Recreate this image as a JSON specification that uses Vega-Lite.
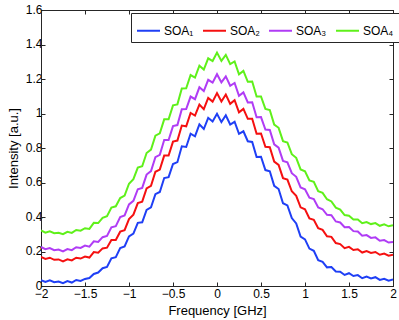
{
  "$schema": "https://vega.github.io/schema/vega-lite/v6.json",
  "width": 352,
  "height": 276,
  "autosize": {"type": "none"},
  "padding": {"left": 41, "top": 10, "right": 6, "bottom": 34},
  "background": "white",
  "view": {"stroke": "#262626", "strokeWidth": 1},
  "config": {
    "font": "Liberation Sans",
    "axis": {"labelFont": "Liberation Sans", "titleFont": "Liberation Sans", "labelFontSize": 12, "titleFontSize": 13, "titleFontWeight": "normal", "labelColor": "#000000", "titleColor": "#000000", "domainColor": "#262626", "tickColor": "#262626", "grid": false, "labelOverlap": false, "labelFlush": false},
    "legend": {"labelFont": "Liberation Sans"}
  },
  "data": {"values": [
    {"x":-2,"s":"SOA₁","y":0.034},{"x":-1.95,"s":"SOA₁","y":0.023},{"x":-1.9,"s":"SOA₁","y":0.033},{"x":-1.85,"s":"SOA₁","y":0.022},{"x":-1.8,"s":"SOA₁","y":0.026},{"x":-1.75,"s":"SOA₁","y":0.016},{"x":-1.7,"s":"SOA₁","y":0.028},{"x":-1.65,"s":"SOA₁","y":0.020},{"x":-1.6,"s":"SOA₁","y":0.035},{"x":-1.55,"s":"SOA₁","y":0.029},
    {"x":-1.5,"s":"SOA₁","y":0.041},{"x":-1.45,"s":"SOA₁","y":0.046},{"x":-1.4,"s":"SOA₁","y":0.070},{"x":-1.35,"s":"SOA₁","y":0.078},{"x":-1.3,"s":"SOA₁","y":0.103},{"x":-1.25,"s":"SOA₁","y":0.110},{"x":-1.2,"s":"SOA₁","y":0.160},{"x":-1.15,"s":"SOA₁","y":0.167},{"x":-1.1,"s":"SOA₁","y":0.220},{"x":-1.05,"s":"SOA₁","y":0.229},
    {"x":-1,"s":"SOA₁","y":0.288},{"x":-0.95,"s":"SOA₁","y":0.304},{"x":-0.9,"s":"SOA₁","y":0.366},{"x":-0.85,"s":"SOA₁","y":0.369},{"x":-0.8,"s":"SOA₁","y":0.441},{"x":-0.75,"s":"SOA₁","y":0.456},{"x":-0.7,"s":"SOA₁","y":0.532},{"x":-0.65,"s":"SOA₁","y":0.545},{"x":-0.6,"s":"SOA₁","y":0.626},{"x":-0.55,"s":"SOA₁","y":0.631},
    {"x":-0.5,"s":"SOA₁","y":0.707},{"x":-0.45,"s":"SOA₁","y":0.718},{"x":-0.4,"s":"SOA₁","y":0.810},{"x":-0.35,"s":"SOA₁","y":0.806},{"x":-0.3,"s":"SOA₁","y":0.883},{"x":-0.25,"s":"SOA₁","y":0.868},{"x":-0.2,"s":"SOA₁","y":0.937},{"x":-0.15,"s":"SOA₁","y":0.910},{"x":-0.1,"s":"SOA₁","y":0.975},{"x":-0.05,"s":"SOA₁","y":0.954},
    {"x":0,"s":"SOA₁","y":0.998},{"x":0.05,"s":"SOA₁","y":0.950},{"x":0.1,"s":"SOA₁","y":0.990},{"x":0.15,"s":"SOA₁","y":0.936},{"x":0.2,"s":"SOA₁","y":0.952},{"x":0.25,"s":"SOA₁","y":0.882},{"x":0.3,"s":"SOA₁","y":0.897},{"x":0.35,"s":"SOA₁","y":0.839},{"x":0.4,"s":"SOA₁","y":0.835},{"x":0.45,"s":"SOA₁","y":0.748},
    {"x":0.5,"s":"SOA₁","y":0.749},{"x":0.55,"s":"SOA₁","y":0.672},{"x":0.6,"s":"SOA₁","y":0.665},{"x":0.65,"s":"SOA₁","y":0.581},{"x":0.7,"s":"SOA₁","y":0.562},{"x":0.75,"s":"SOA₁","y":0.480},{"x":0.8,"s":"SOA₁","y":0.467},{"x":0.85,"s":"SOA₁","y":0.394},{"x":0.9,"s":"SOA₁","y":0.363},{"x":0.95,"s":"SOA₁","y":0.286},
    {"x":1,"s":"SOA₁","y":0.270},{"x":1.05,"s":"SOA₁","y":0.217},{"x":1.1,"s":"SOA₁","y":0.204},{"x":1.15,"s":"SOA₁","y":0.150},{"x":1.2,"s":"SOA₁","y":0.140},{"x":1.25,"s":"SOA₁","y":0.108},{"x":1.3,"s":"SOA₁","y":0.110},{"x":1.35,"s":"SOA₁","y":0.084},{"x":1.4,"s":"SOA₁","y":0.083},{"x":1.45,"s":"SOA₁","y":0.064},
    {"x":1.5,"s":"SOA₁","y":0.074},{"x":1.55,"s":"SOA₁","y":0.058},{"x":1.6,"s":"SOA₁","y":0.063},{"x":1.65,"s":"SOA₁","y":0.045},{"x":1.7,"s":"SOA₁","y":0.055},{"x":1.75,"s":"SOA₁","y":0.044},{"x":1.8,"s":"SOA₁","y":0.051},{"x":1.85,"s":"SOA₁","y":0.035},{"x":1.9,"s":"SOA₁","y":0.042},{"x":1.95,"s":"SOA₁","y":0.031},{"x":2,"s":"SOA₁","y":0.038},

    {"x":-2,"s":"SOA₂","y":0.169},{"x":-1.95,"s":"SOA₂","y":0.157},{"x":-1.9,"s":"SOA₂","y":0.164},{"x":-1.85,"s":"SOA₂","y":0.152},{"x":-1.8,"s":"SOA₂","y":0.154},{"x":-1.75,"s":"SOA₂","y":0.143},{"x":-1.7,"s":"SOA₂","y":0.155},{"x":-1.65,"s":"SOA₂","y":0.148},{"x":-1.6,"s":"SOA₂","y":0.164},{"x":-1.55,"s":"SOA₂","y":0.159},
    {"x":-1.5,"s":"SOA₂","y":0.171},{"x":-1.45,"s":"SOA₂","y":0.165},{"x":-1.4,"s":"SOA₂","y":0.197},{"x":-1.35,"s":"SOA₂","y":0.193},{"x":-1.3,"s":"SOA₂","y":0.218},{"x":-1.25,"s":"SOA₂","y":0.222},{"x":-1.2,"s":"SOA₂","y":0.267},{"x":-1.15,"s":"SOA₂","y":0.267},{"x":-1.1,"s":"SOA₂","y":0.315},{"x":-1.05,"s":"SOA₂","y":0.324},
    {"x":-1,"s":"SOA₂","y":0.388},{"x":-0.95,"s":"SOA₂","y":0.414},{"x":-0.9,"s":"SOA₂","y":0.481},{"x":-0.85,"s":"SOA₂","y":0.489},{"x":-0.8,"s":"SOA₂","y":0.566},{"x":-0.75,"s":"SOA₂","y":0.581},{"x":-0.7,"s":"SOA₂","y":0.662},{"x":-0.65,"s":"SOA₂","y":0.675},{"x":-0.6,"s":"SOA₂","y":0.756},{"x":-0.55,"s":"SOA₂","y":0.756},
    {"x":-0.5,"s":"SOA₂","y":0.837},{"x":-0.45,"s":"SOA₂","y":0.843},{"x":-0.4,"s":"SOA₂","y":0.930},{"x":-0.35,"s":"SOA₂","y":0.926},{"x":-0.3,"s":"SOA₂","y":1.003},{"x":-0.25,"s":"SOA₂","y":0.988},{"x":-0.2,"s":"SOA₂","y":1.052},{"x":-0.15,"s":"SOA₂","y":1.025},{"x":-0.1,"s":"SOA₂","y":1.090},{"x":-0.05,"s":"SOA₂","y":1.069},
    {"x":0,"s":"SOA₂","y":1.118},{"x":0.05,"s":"SOA₂","y":1.070},{"x":0.1,"s":"SOA₂","y":1.110},{"x":0.15,"s":"SOA₂","y":1.056},{"x":0.2,"s":"SOA₂","y":1.077},{"x":0.25,"s":"SOA₂","y":1.007},{"x":0.3,"s":"SOA₂","y":1.027},{"x":0.35,"s":"SOA₂","y":0.969},{"x":0.4,"s":"SOA₂","y":0.970},{"x":0.45,"s":"SOA₂","y":0.883},
    {"x":0.5,"s":"SOA₂","y":0.884},{"x":0.55,"s":"SOA₂","y":0.807},{"x":0.6,"s":"SOA₂","y":0.805},{"x":0.65,"s":"SOA₂","y":0.721},{"x":0.7,"s":"SOA₂","y":0.702},{"x":0.75,"s":"SOA₂","y":0.625},{"x":0.8,"s":"SOA₂","y":0.617},{"x":0.85,"s":"SOA₂","y":0.549},{"x":0.9,"s":"SOA₂","y":0.523},{"x":0.95,"s":"SOA₂","y":0.456},
    {"x":1,"s":"SOA₂","y":0.445},{"x":1.05,"s":"SOA₂","y":0.392},{"x":1.1,"s":"SOA₂","y":0.384},{"x":1.15,"s":"SOA₂","y":0.335},{"x":1.2,"s":"SOA₂","y":0.325},{"x":1.25,"s":"SOA₂","y":0.288},{"x":1.3,"s":"SOA₂","y":0.285},{"x":1.35,"s":"SOA₂","y":0.249},{"x":1.4,"s":"SOA₂","y":0.243},{"x":1.45,"s":"SOA₂","y":0.219},
    {"x":1.5,"s":"SOA₂","y":0.227},{"x":1.55,"s":"SOA₂","y":0.209},{"x":1.6,"s":"SOA₂","y":0.213},{"x":1.65,"s":"SOA₂","y":0.194},{"x":1.7,"s":"SOA₂","y":0.203},{"x":1.75,"s":"SOA₂","y":0.192},{"x":1.8,"s":"SOA₂","y":0.197},{"x":1.85,"s":"SOA₂","y":0.181},{"x":1.9,"s":"SOA₂","y":0.188},{"x":1.95,"s":"SOA₂","y":0.176},{"x":2,"s":"SOA₂","y":0.181},

    {"x":-2,"s":"SOA₃","y":0.226},{"x":-1.95,"s":"SOA₃","y":0.213},{"x":-1.9,"s":"SOA₃","y":0.220},{"x":-1.85,"s":"SOA₃","y":0.208},{"x":-1.8,"s":"SOA₃","y":0.211},{"x":-1.75,"s":"SOA₃","y":0.201},{"x":-1.7,"s":"SOA₃","y":0.214},{"x":-1.65,"s":"SOA₃","y":0.208},{"x":-1.6,"s":"SOA₃","y":0.225},{"x":-1.55,"s":"SOA₃","y":0.221},
    {"x":-1.5,"s":"SOA₃","y":0.234},{"x":-1.45,"s":"SOA₃","y":0.228},{"x":-1.4,"s":"SOA₃","y":0.259},{"x":-1.35,"s":"SOA₃","y":0.255},{"x":-1.3,"s":"SOA₃","y":0.283},{"x":-1.25,"s":"SOA₃","y":0.290},{"x":-1.2,"s":"SOA₃","y":0.340},{"x":-1.15,"s":"SOA₃","y":0.347},{"x":-1.1,"s":"SOA₃","y":0.400},{"x":-1.05,"s":"SOA₃","y":0.409},
    {"x":-1,"s":"SOA₃","y":0.473},{"x":-0.95,"s":"SOA₃","y":0.494},{"x":-0.9,"s":"SOA₃","y":0.561},{"x":-0.85,"s":"SOA₃","y":0.569},{"x":-0.8,"s":"SOA₃","y":0.646},{"x":-0.75,"s":"SOA₃","y":0.666},{"x":-0.7,"s":"SOA₃","y":0.747},{"x":-0.65,"s":"SOA₃","y":0.760},{"x":-0.6,"s":"SOA₃","y":0.846},{"x":-0.55,"s":"SOA₃","y":0.846},
    {"x":-0.5,"s":"SOA₃","y":0.927},{"x":-0.45,"s":"SOA₃","y":0.933},{"x":-0.4,"s":"SOA₃","y":1.025},{"x":-0.35,"s":"SOA₃","y":1.026},{"x":-0.3,"s":"SOA₃","y":1.098},{"x":-0.25,"s":"SOA₃","y":1.083},{"x":-0.2,"s":"SOA₃","y":1.152},{"x":-0.15,"s":"SOA₃","y":1.130},{"x":-0.1,"s":"SOA₃","y":1.195},{"x":-0.05,"s":"SOA₃","y":1.179},
    {"x":0,"s":"SOA₃","y":1.228},{"x":0.05,"s":"SOA₃","y":1.180},{"x":0.1,"s":"SOA₃","y":1.215},{"x":0.15,"s":"SOA₃","y":1.161},{"x":0.2,"s":"SOA₃","y":1.177},{"x":0.25,"s":"SOA₃","y":1.102},{"x":0.3,"s":"SOA₃","y":1.122},{"x":0.35,"s":"SOA₃","y":1.064},{"x":0.4,"s":"SOA₃","y":1.065},{"x":0.45,"s":"SOA₃","y":0.978},
    {"x":0.5,"s":"SOA₃","y":0.979},{"x":0.55,"s":"SOA₃","y":0.907},{"x":0.6,"s":"SOA₃","y":0.905},{"x":0.65,"s":"SOA₃","y":0.821},{"x":0.7,"s":"SOA₃","y":0.802},{"x":0.75,"s":"SOA₃","y":0.725},{"x":0.8,"s":"SOA₃","y":0.717},{"x":0.85,"s":"SOA₃","y":0.654},{"x":0.9,"s":"SOA₃","y":0.633},{"x":0.95,"s":"SOA₃","y":0.571},
    {"x":1,"s":"SOA₃","y":0.560},{"x":1.05,"s":"SOA₃","y":0.512},{"x":1.1,"s":"SOA₃","y":0.504},{"x":1.15,"s":"SOA₃","y":0.455},{"x":1.2,"s":"SOA₃","y":0.445},{"x":1.25,"s":"SOA₃","y":0.413},{"x":1.3,"s":"SOA₃","y":0.410},{"x":1.35,"s":"SOA₃","y":0.374},{"x":1.4,"s":"SOA₃","y":0.368},{"x":1.45,"s":"SOA₃","y":0.341},
    {"x":1.5,"s":"SOA₃","y":0.342},{"x":1.55,"s":"SOA₃","y":0.318},{"x":1.6,"s":"SOA₃","y":0.316},{"x":1.65,"s":"SOA₃","y":0.292},{"x":1.7,"s":"SOA₃","y":0.295},{"x":1.75,"s":"SOA₃","y":0.279},{"x":1.8,"s":"SOA₃","y":0.282},{"x":1.85,"s":"SOA₃","y":0.262},{"x":1.9,"s":"SOA₃","y":0.266},{"x":1.95,"s":"SOA₃","y":0.252},{"x":2,"s":"SOA₃","y":0.255},

    {"x":-2,"s":"SOA₄","y":0.322},{"x":-1.95,"s":"SOA₄","y":0.309},{"x":-1.9,"s":"SOA₄","y":0.317},{"x":-1.85,"s":"SOA₄","y":0.306},{"x":-1.8,"s":"SOA₄","y":0.309},{"x":-1.75,"s":"SOA₄","y":0.300},{"x":-1.7,"s":"SOA₄","y":0.314},{"x":-1.65,"s":"SOA₄","y":0.308},{"x":-1.6,"s":"SOA₄","y":0.325},{"x":-1.55,"s":"SOA₄","y":0.321},
    {"x":-1.5,"s":"SOA₄","y":0.335},{"x":-1.45,"s":"SOA₄","y":0.331},{"x":-1.4,"s":"SOA₄","y":0.366},{"x":-1.35,"s":"SOA₄","y":0.365},{"x":-1.3,"s":"SOA₄","y":0.395},{"x":-1.25,"s":"SOA₄","y":0.405},{"x":-1.2,"s":"SOA₄","y":0.455},{"x":-1.15,"s":"SOA₄","y":0.462},{"x":-1.1,"s":"SOA₄","y":0.510},{"x":-1.05,"s":"SOA₄","y":0.524},
    {"x":-1,"s":"SOA₄","y":0.593},{"x":-0.95,"s":"SOA₄","y":0.619},{"x":-0.9,"s":"SOA₄","y":0.686},{"x":-0.85,"s":"SOA₄","y":0.694},{"x":-0.8,"s":"SOA₄","y":0.771},{"x":-0.75,"s":"SOA₄","y":0.791},{"x":-0.7,"s":"SOA₄","y":0.872},{"x":-0.65,"s":"SOA₄","y":0.885},{"x":-0.6,"s":"SOA₄","y":0.966},{"x":-0.55,"s":"SOA₄","y":0.966},
    {"x":-0.5,"s":"SOA₄","y":1.047},{"x":-0.45,"s":"SOA₄","y":1.053},{"x":-0.4,"s":"SOA₄","y":1.145},{"x":-0.35,"s":"SOA₄","y":1.146},{"x":-0.3,"s":"SOA₄","y":1.223},{"x":-0.25,"s":"SOA₄","y":1.208},{"x":-0.2,"s":"SOA₄","y":1.277},{"x":-0.15,"s":"SOA₄","y":1.255},{"x":-0.1,"s":"SOA₄","y":1.320},{"x":-0.05,"s":"SOA₄","y":1.304},
    {"x":0,"s":"SOA₄","y":1.353},{"x":0.05,"s":"SOA₄","y":1.305},{"x":0.1,"s":"SOA₄","y":1.340},{"x":0.15,"s":"SOA₄","y":1.286},{"x":0.2,"s":"SOA₄","y":1.302},{"x":0.25,"s":"SOA₄","y":1.227},{"x":0.3,"s":"SOA₄","y":1.247},{"x":0.35,"s":"SOA₄","y":1.184},{"x":0.4,"s":"SOA₄","y":1.185},{"x":0.45,"s":"SOA₄","y":1.098},
    {"x":0.5,"s":"SOA₄","y":1.099},{"x":0.55,"s":"SOA₄","y":1.027},{"x":0.6,"s":"SOA₄","y":1.020},{"x":0.65,"s":"SOA₄","y":0.936},{"x":0.7,"s":"SOA₄","y":0.917},{"x":0.75,"s":"SOA₄","y":0.840},{"x":0.8,"s":"SOA₄","y":0.832},{"x":0.85,"s":"SOA₄","y":0.764},{"x":0.9,"s":"SOA₄","y":0.743},{"x":0.95,"s":"SOA₄","y":0.676},
    {"x":1,"s":"SOA₄","y":0.665},{"x":1.05,"s":"SOA₄","y":0.612},{"x":1.1,"s":"SOA₄","y":0.604},{"x":1.15,"s":"SOA₄","y":0.550},{"x":1.2,"s":"SOA₄","y":0.540},{"x":1.25,"s":"SOA₄","y":0.503},{"x":1.3,"s":"SOA₄","y":0.490},{"x":1.35,"s":"SOA₄","y":0.454},{"x":1.4,"s":"SOA₄","y":0.443},{"x":1.45,"s":"SOA₄","y":0.411},
    {"x":1.5,"s":"SOA₄","y":0.407},{"x":1.55,"s":"SOA₄","y":0.386},{"x":1.6,"s":"SOA₄","y":0.386},{"x":1.65,"s":"SOA₄","y":0.364},{"x":1.7,"s":"SOA₄","y":0.371},{"x":1.75,"s":"SOA₄","y":0.359},{"x":1.8,"s":"SOA₄","y":0.365},{"x":1.85,"s":"SOA₄","y":0.349},{"x":1.9,"s":"SOA₄","y":0.357},{"x":1.95,"s":"SOA₄","y":0.346},{"x":2,"s":"SOA₄","y":0.353}
  ]},
  "layer": [
    {
      "mark": {"type": "line", "strokeWidth": 2, "interpolate": "linear", "clip": true},
      "encoding": {
        "x": {"field": "x", "type": "quantitative", "scale": {"domain": [-2, 2], "nice": false, "zero": false},
              "axis": {"title": "Frequency [GHz]", "values": [-2,-1.5,-1,-0.5,0,0.5,1,1.5,2], "format": "~g", "tickSize": -4, "labelPadding": 6, "titlePadding": 5, "orient": "bottom"}},
        "y": {"field": "y", "type": "quantitative", "scale": {"domain": [0, 1.6], "nice": false, "zero": false},
              "axis": {"title": "Intensity [a.u.]", "values": [0,0.2,0.4,0.6,0.8,1,1.2,1.4,1.6], "format": "~g", "tickSize": -4, "labelPadding": 3, "labelOffset": -1, "titlePadding": 5, "orient": "left"}},
        "color": {"field": "s", "type": "nominal",
                  "scale": {"domain": ["SOA₁","SOA₂","SOA₃","SOA₄"], "range": ["#1f3ff5","#f51010","#b03cf5","#5ff01a"]},
                  "legend": {"title": null, "orient": "none", "legendX": 90, "legendY": 3, "direction": "horizontal", "columns": 4,
                             "symbolType": "stroke", "symbolSize": 529, "symbolStrokeWidth": 2, "labelFontSize": 12, "labelOffset": 3, "columnPadding": 5,
                             "padding": 5, "strokeColor": "#262626", "fillColor": "white", "cornerRadius": 0, "labelColor": "#000000"}}
      }
    },
    {
      "mark": {"type": "point", "opacity": 0},
      "encoding": {
        "x": {"field": "x", "type": "quantitative", "axis": {"title": null, "orient": "top", "values": [-2,-1.5,-1,-0.5,0,0.5,1,1.5,2], "labels": false, "tickSize": -4, "domain": true}},
        "y": {"field": "y", "type": "quantitative", "axis": {"title": null, "orient": "right", "values": [0,0.2,0.4,0.6,0.8,1,1.2,1.4,1.6], "labels": false, "tickSize": -4, "domain": true}}
      }
    }
  ],
  "resolve": {"axis": {"x": "independent", "y": "independent"}}
}
